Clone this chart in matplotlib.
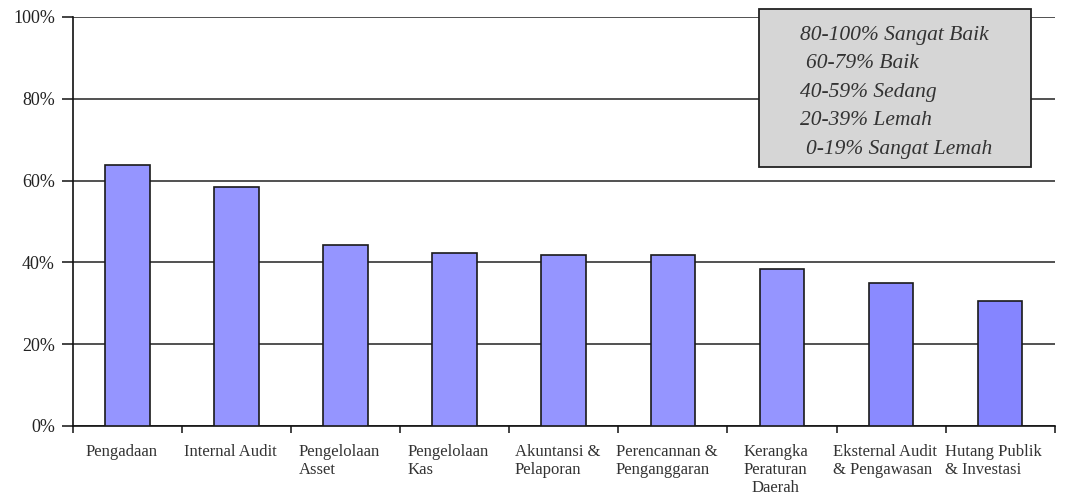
import matplotlib.pyplot as plt
from matplotlib.patches import Rectangle
import numpy as np

plt.rcParams['font.family'] = ['Liberation Serif', 'DejaVu Serif']

# Skor per area (persen)
categories = ['Pengadaan', 'Internal Audit', 'Pengelolaan\nAsset', 'Pengelolaan\nKas',
              'Akuntansi &\nPelaporan', 'Perencannan &\nPenganggaran',
              'Kerangka\nPeraturan\nDaerah', 'Eksternal Audit\n& Pengawasan',
              'Hutang Publik\n& Investasi']
scores = [63.7, 58.5, 44.2, 42.3, 41.9, 41.9, 38.4, 35.0, 30.6]
bar_colors = ['#9595ff'] * 7 + ['#8a8aff', '#8585ff']

scale_text = ['80-100% Sangat Baik', '60-79% Baik', '40-59% Sedang',
              '20-39% Lemah', '0-19% Sangat Lemah']
scale_indent = [0.0, 0.006, 0.0, 0.0, 0.006]

fig = plt.figure(figsize=(10.74, 4.97), dpi=100)
ax = fig.add_axes([0.068, 0.143, 0.914, 0.823])

x = np.arange(len(categories))
ax.bar(x, scores, width=0.41, color=bar_colors, edgecolor='#1a1a1a',
       linewidth=1.2, zorder=3)

ax.set_xlim(-0.5, len(categories) - 0.5)
ax.set_ylim(0, 100)
ax.set_yticks(np.arange(0, 101, 20))
ax.set_yticklabels([f'{v}%' for v in range(0, 101, 20)], fontsize=13, color='#222222')
ax.yaxis.grid(True, color='#222222', linewidth=1.1, zorder=0)

# category boundaries as ticks, labels centred under bars
ax.set_xticks(np.arange(len(categories) + 1) - 0.5)
ax.set_xticklabels([])
ax.tick_params(axis='x', length=5, width=1.1, color='#111111', direction='out')
ax.tick_params(axis='y', length=8, width=1.1, color='#111111', pad=5)
for i, label in enumerate(categories):
    ax.text(i - 0.06, -4.4, label, ha='center', va='top', fontsize=12,
            color='#333333', linespacing=1.16,
            multialignment='center' if label.startswith('Kerangka') else 'left')

for side in ['top', 'right']:
    ax.spines[side].set_visible(False)
ax.spines['left'].set_linewidth(1.2)
ax.spines['bottom'].set_linewidth(1.2)
ax.spines['left'].set_color('#111111')
ax.spines['bottom'].set_color('#111111')

# kotak keterangan skala
box = Rectangle((0.699, 0.633), 0.277, 0.387, transform=ax.transAxes,
                facecolor='#d6d6d6', edgecolor='#222222', linewidth=1.3,
                zorder=5, clip_on=False)
ax.add_patch(box)
for k, (txt, dx) in enumerate(zip(scale_text, scale_indent)):
    ax.text(0.741 + dx, 0.955 - k * 0.0697, txt, transform=ax.transAxes,
            fontsize=15.5, style='italic', color='#333333', va='center',
            ha='left', zorder=6)

fig.savefig('out.png', dpi=100, facecolor='white')
